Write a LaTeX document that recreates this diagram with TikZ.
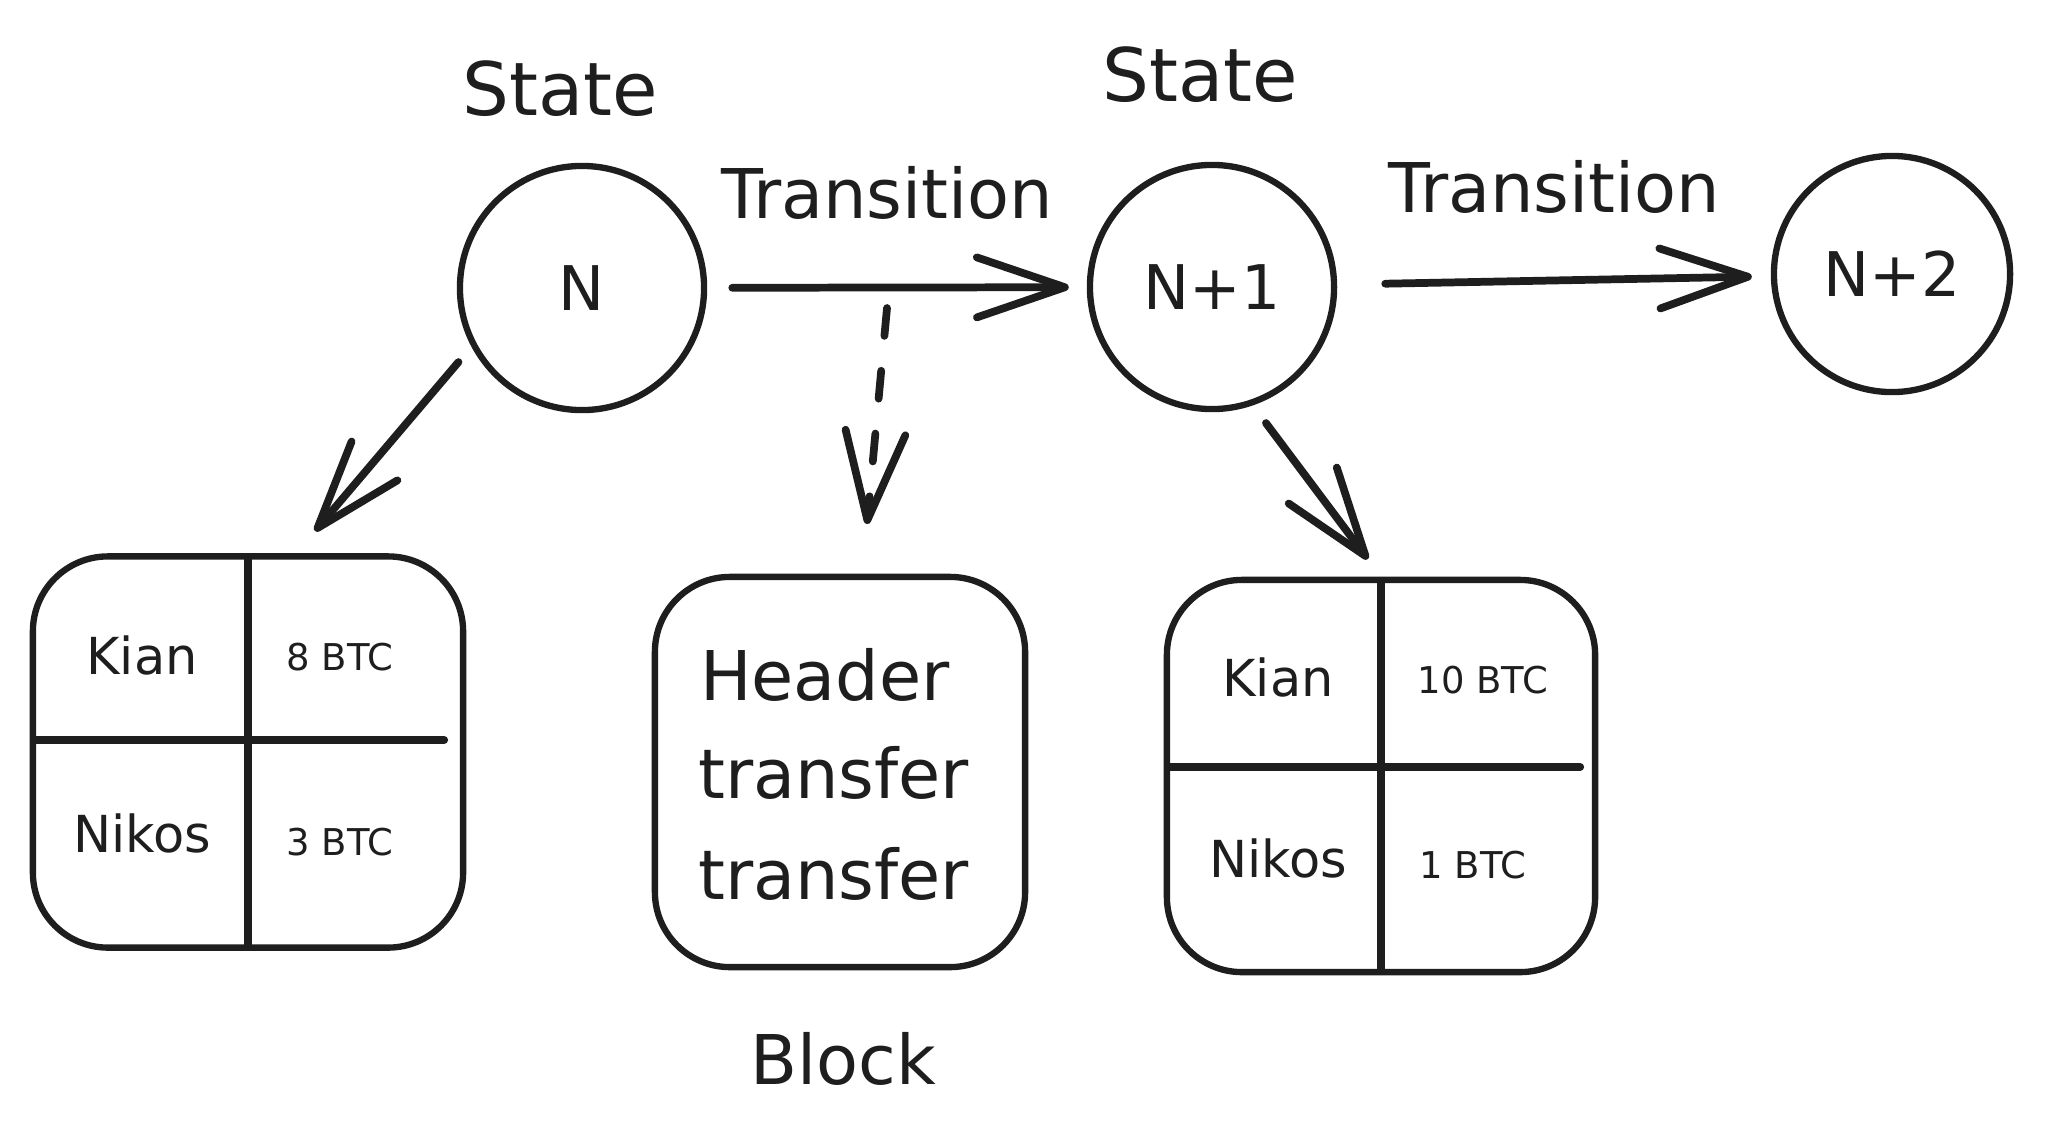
\documentclass[tikz,border=0pt]{standalone}
\usepackage{fontspec}
\setmainfont{DejaVu Sans}
\usetikzlibrary{arrows.meta,calc}
\definecolor{ink}{HTML}{1E1E1E}

\begin{document}
\begin{tikzpicture}[x=0.01cm,y=-0.01cm,line width=1.8pt,line cap=round,line join=round,draw=ink,text=ink,
  state/.style={draw,circle,minimum size=24.4mm,inner sep=0pt,font=\fontsize{17.5pt}{20pt}\selectfont},
  heading/.style={font=\fontsize{21pt}{24pt}\selectfont},
  trans/.style={font=\fontsize{19.5pt}{22pt}\selectfont},
  box/.style={draw,rectangle,rounded corners=7.5mm,inner sep=0pt},
  divider/.style={line width=2.3pt,shorten <=1.2pt,shorten >=1.2pt},
  cellname/.style={font=\fontsize{14.5pt}{16pt}\selectfont},
  cellval/.style={font=\fontsize{10.5pt}{12pt}\selectfont},
  blocktext/.style={anchor=west,inner sep=0pt,font=\fontsize{19.5pt}{23pt}\selectfont},
  arr/.style={line width=2.2pt,-{Straight Barb[length=8.8mm,width=6mm,round]}}]

\useasboundingbox[fill=white] (0,0) rectangle (2055,1142);

% states
\node[state] (sN) at (582,288) {N};
\node[state] (sN1) at (1212,287) {N+1};
\node[state,minimum size=23.6mm] (sN2) at (1892,274) {N+2};
\node[heading] (lblN) at (560,89) {State};
\node[heading] (lblN1) at (1200,75) {State};
\node[trans] (trA) at (887,193) {Transition};
\node[trans] (trB) at (1554,187) {Transition};

% balances and block
\node[box,minimum width=43mm,minimum height=39.1mm] (tab1) at (248,752) {};
\node[box,minimum width=42.8mm,minimum height=39.2mm] (tab2) at (1381,776) {};
\node[box,minimum width=37mm,minimum height=39mm] (blk) at (840,772) {};
\draw[divider] (tab1.north) -- (tab1.south);
\draw[divider] ($(tab1.west)+(0,-12)$) -- ($(tab1.east)+(-18,-12)$);
\draw[divider] (tab2.north) -- (tab2.south);
\draw[divider] ($(tab2.west)+(0,-9)$) -- ($(tab2.east)+(-14,-9)$);

\node[cellname] (k1) at (142,655) {Kian};
\node[cellval] (v1) at (340,657) {8 BTC};
\node[cellname] (n1) at (142,833) {Nikos};
\node[cellval] (w1) at (340,842) {3 BTC};
\node[cellname] (k2) at (1278,677) {Kian};
\node[cellval] (v2) at (1483,680) {10 BTC};
\node[cellname] (n2) at (1278,858) {Nikos};
\node[cellval] (w2) at (1473,865) {1 BTC};

\node[blocktext] (hdr) at (697,675) {Header};
\node[blocktext] (tx1) at (695,773) {transfer};
\node[blocktext] (tx2) at (695,874) {transfer};
\node[heading,font=\fontsize{19.5pt}{22pt}\selectfont] (blkLbl) at (843,1059) {Block};

% transitions
\draw[arr,shorten <=2.5mm,shorten >=1.8mm] (sN) -- (sN1);
\draw[arr,shorten <=4.8mm,shorten >=1.9mm] (sN1) -- (sN2);
\coordinate (tab1in) at (315,531);
\draw[arr,shorten <=2mm] (sN.208) -- (tab1in);
\draw[arr,shorten <=2.2mm,shorten >=2.2mm] (sN1.289) -- (tab2.north);
\coordinate (dTop) at (887,308);
\coordinate (dBot) at (867,524);
\draw[arr,dash pattern=on 2.8mm off 3.5mm] (dTop) -- (dBot);

\end{tikzpicture}
\end{document}
